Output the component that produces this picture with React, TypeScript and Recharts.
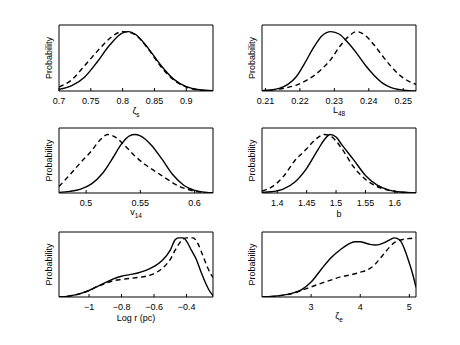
import React from 'react';
import { LineChart, Line, XAxis, YAxis, ReferenceArea } from 'recharts';

const FONT = '"Liberation Sans", Arial, Helvetica, sans-serif';

// Panel 1: zeta_s
const zetaSX = [0.7, 0.72, 0.74, 0.76, 0.78, 0.8, 0.81, 0.82, 0.84, 0.86, 0.88, 0.9, 0.92, 0.942];
const zetaSSolid = [0.024, 0.08, 0.21, 0.44, 0.7, 0.88, 0.9, 0.86, 0.65, 0.39, 0.18, 0.065, 0.018, 0.004];
const zetaSDashed = [0.06, 0.17, 0.38, 0.6, 0.8, 0.9, 0.89, 0.85, 0.64, 0.37, 0.17, 0.06, 0.015, 0.003];
const zetaSTicks = [0.7, 0.75, 0.8, 0.85, 0.9];

// Panel 2: L_48
const l48X = [0.209, 0.2115, 0.214, 0.2165, 0.219, 0.2215, 0.224, 0.2265, 0.229, 0.2315, 0.234, 0.2365, 0.239, 0.2415, 0.244, 0.2465, 0.249, 0.2515, 0.2537];
const l48Solid = [0.005, 0.015, 0.04, 0.1, 0.22, 0.43, 0.66, 0.84, 0.9, 0.86, 0.73, 0.57, 0.39, 0.24, 0.12, 0.05, 0.02, 0.006, 0.002];
const l48Dashed = [0.005, 0.012, 0.03, 0.055, 0.09, 0.15, 0.23, 0.34, 0.48, 0.67, 0.82, 0.9, 0.84, 0.7, 0.53, 0.37, 0.24, 0.15, 0.1];
const l48Ticks = [0.21, 0.22, 0.23, 0.24, 0.25];

// Panel 3: v_14
const v14SolidX = [0.475, 0.485, 0.495, 0.505, 0.515, 0.525, 0.532, 0.54, 0.545, 0.55, 0.56, 0.57, 0.58, 0.59, 0.6, 0.61, 0.617];
const v14Solid = [0.01, 0.025, 0.06, 0.14, 0.3, 0.55, 0.74, 0.88, 0.9, 0.88, 0.74, 0.52, 0.28, 0.12, 0.04, 0.01, 0.004];
const v14DashedX = [0.475, 0.485, 0.495, 0.505, 0.512, 0.52, 0.527, 0.535, 0.545, 0.555, 0.565, 0.575, 0.585, 0.595, 0.605, 0.617];
const v14Dashed = [0.1, 0.28, 0.47, 0.65, 0.8, 0.9, 0.86, 0.74, 0.57, 0.43, 0.32, 0.21, 0.11, 0.05, 0.015, 0.004];
const v14Ticks = [0.5, 0.55, 0.6];

// Panel 4: b
const bSolidX = [1.374, 1.39, 1.41, 1.43, 1.45, 1.47, 1.48, 1.49, 1.5, 1.51, 1.53, 1.55, 1.57, 1.59, 1.61, 1.636];
const bSolid = [0.01, 0.02, 0.06, 0.17, 0.38, 0.68, 0.82, 0.9, 0.86, 0.74, 0.51, 0.27, 0.12, 0.045, 0.015, 0.003];
const bDashedX = [1.374, 1.39, 1.41, 1.43, 1.45, 1.46, 1.47, 1.48, 1.49, 1.5, 1.51, 1.53, 1.55, 1.57, 1.59, 1.61, 1.636];
const bDashed = [0.03, 0.09, 0.25, 0.5, 0.68, 0.78, 0.86, 0.9, 0.88, 0.8, 0.68, 0.4, 0.21, 0.1, 0.04, 0.012, 0.003];
const bTicks = [1.4, 1.45, 1.5, 1.55, 1.6];

// Panel 5: Log r (pc)
const logRSolidX = [-1.185, -1.15, -1.1, -1.05, -1, -0.95, -0.9, -0.85, -0.8, -0.75, -0.7, -0.65, -0.6, -0.55, -0.5, -0.47, -0.45, -0.42, -0.4, -0.37, -0.34, -0.31, -0.28, -0.26, -0.237];
const logRSolid = [0, 0.005, 0.025, 0.055, 0.1, 0.16, 0.22, 0.28, 0.32, 0.345, 0.37, 0.41, 0.47, 0.56, 0.72, 0.88, 0.91, 0.91, 0.86, 0.72, 0.58, 0.38, 0.2, 0.1, 0.02];
const logRDashedX = [-1.185, -1.15, -1.1, -1.05, -1, -0.95, -0.9, -0.85, -0.8, -0.75, -0.7, -0.65, -0.6, -0.55, -0.5, -0.47, -0.44, -0.42, -0.4, -0.36, -0.33, -0.3, -0.27, -0.25, -0.237];
const logRDashed = [0, 0.005, 0.025, 0.055, 0.1, 0.16, 0.21, 0.25, 0.27, 0.285, 0.3, 0.32, 0.36, 0.44, 0.58, 0.72, 0.84, 0.89, 0.91, 0.91, 0.82, 0.64, 0.45, 0.35, 0.3];
const logRTicks = [-1, -0.8, -0.6, -0.4];

// Panel 6: zeta_e
const zetaEX = [2.0, 2.2, 2.4, 2.6, 2.8, 3.0, 3.2, 3.4, 3.6, 3.8, 3.9, 4.0, 4.1, 4.2, 4.3, 4.4, 4.5, 4.6, 4.7, 4.8, 4.9, 5.0, 5.05, 5.135];
const zetaESolid = [0, 0.008, 0.025, 0.055, 0.11, 0.23, 0.42, 0.6, 0.73, 0.83, 0.85, 0.85, 0.83, 0.81, 0.8, 0.81, 0.84, 0.88, 0.91, 0.88, 0.74, 0.52, 0.4, 0.15];
const zetaEDashedX = [2.0, 2.2, 2.4, 2.6, 2.8, 3.0, 3.2, 3.4, 3.6, 3.8, 4.0, 4.2, 4.3, 4.4, 4.5, 4.6, 4.7, 4.8, 4.9, 5.0, 5.135];
const zetaEDashed = [0, 0.008, 0.025, 0.05, 0.1, 0.155, 0.21, 0.26, 0.31, 0.34, 0.38, 0.44, 0.5, 0.59, 0.68, 0.77, 0.84, 0.87, 0.89, 0.9, 0.91];
const zetaETicks = [3, 4, 5];

type Pt = { x: number; y: number };
const pts = (xs: number[], ys: number[]): Pt[] => xs.map((x, i) => ({ x, y: ys[i] }));

const fmtTick = (v: number) => (v < 0 ? '\u2212' + String(-v) : String(v));

interface PanelCfg {
  left: number;
  top: number;
  width: number;
  height: number;
  domain: [number, number];
  ticks: number[];
  solid: Pt[];
  dashed: Pt[];
  label: string;
  sub?: string;
  labelDy: number;
}

const ML = 45;
const MT = 6;
const MR = 8;
const MB = 40;

function Panel({ cfg }: { cfg: PanelCfg }) {
  const { left, top, width, height, domain, ticks, solid, dashed, label, sub, labelDy } = cfg;
  return (
    <div style={{ position: 'absolute', left: left - ML, top: top - MT }}>
      <LineChart
        width={width + ML + MR}
        height={height + MT + MB}
        margin={{ top: MT, right: MR, bottom: 0, left: 0 }}
      >
        <XAxis
          xAxisId="b"
          dataKey="x"
          type="number"
          domain={domain}
          ticks={ticks}
          interval={0}
          allowDataOverflow
          height={MB}
          axisLine={false}
          tickLine={false}
          tickSize={0}
          tickMargin={0}
          tick={(p: any) => (
            <g>
              <line x1={p.x} x2={p.x} y1={p.y} y2={p.y - 3} stroke="#000" strokeWidth={1} />
              <text x={p.x} y={p.y + 12.5} textAnchor="middle" fontSize={9} fontFamily={FONT} fill="#000">
                {fmtTick(p.payload.value)}
              </text>
            </g>
          )}
          label={{
            content: (p: any) => {
              const vb = p.viewBox || {};
              return (
                <text
                  x={vb.x + vb.width / 2}
                  y={vb.y + labelDy}
                  textAnchor="middle"
                  fontSize={9}
                  fontFamily={FONT}
                  fill="#000"
                >
                  {label}
                  {sub ? (
                    <tspan fontSize={6.5} dy={3}>
                      {sub}
                    </tspan>
                  ) : null}
                </text>
              );
            },
          }}
        />
        <XAxis
          xAxisId="t"
          dataKey="x"
          orientation="top"
          type="number"
          domain={domain}
          ticks={ticks}
          interval={0}
          allowDataOverflow
          height={0}
          axisLine={false}
          tickLine={false}
          tickSize={0}
          tickMargin={0}
          tick={(p: any) => (
            <line x1={p.x} x2={p.x} y1={p.y} y2={p.y + 3} stroke="#000" strokeWidth={1} />
          )}
        />
        <YAxis
          yAxisId="l"
          type="number"
          domain={[0, 1]}
          allowDataOverflow
          width={ML}
          tick={false}
          axisLine={false}
          tickLine={false}
          label={{
            content: (p: any) => {
              const vb = p.viewBox || {};
              const cx = vb.x + vb.width - 10;
              const cy = vb.y + vb.height / 2;
              return (
                <text
                  x={cx}
                  y={cy}
                  transform={`rotate(-90 ${cx} ${cy})`}
                  textAnchor="middle"
                  dominantBaseline="central"
                  fontSize={9}
                  fontFamily={FONT}
                  fill="#000"
                >
                  Probability
                </text>
              );
            },
          }}
        />
        <ReferenceArea
          xAxisId="b"
          yAxisId="l"
          x1={domain[0]}
          x2={domain[1]}
          y1={0}
          y2={1}
          stroke="#000"
          strokeWidth={1}
          fill="none"
          fillOpacity={0}
          ifOverflow="visible"
        />
        <Line
          xAxisId="b"
          yAxisId="l"
          data={dashed}
          dataKey="y"
          type="monotone"
          stroke="#000"
          strokeWidth={1.4}
          strokeDasharray="5 3.5"
          dot={false}
          activeDot={false}
          isAnimationActive={false}
        />
        <Line
          xAxisId="b"
          yAxisId="l"
          data={solid}
          dataKey="y"
          type="monotone"
          stroke="#000"
          strokeWidth={1.4}
          dot={false}
          activeDot={false}
          isAnimationActive={false}
        />
      </LineChart>
    </div>
  );
}

const LEFT_X = 59;
const RIGHT_X = 262;
const PW = 154;

const panels: PanelCfg[] = [
  {
    left: LEFT_X, top: 25, width: PW, height: 66, domain: [0.7, 0.942], ticks: zetaSTicks,
    solid: pts(zetaSX, zetaSSolid), dashed: pts(zetaSX, zetaSDashed), label: '\u03B6', sub: 's', labelDy: 22.5,
  },
  {
    left: RIGHT_X, top: 25, width: PW, height: 66, domain: [0.209, 0.2537], ticks: l48Ticks,
    solid: pts(l48X, l48Solid), dashed: pts(l48X, l48Dashed), label: 'L', sub: '48', labelDy: 21.5,
  },
  {
    left: LEFT_X, top: 128, width: PW, height: 65, domain: [0.475, 0.617], ticks: v14Ticks,
    solid: pts(v14SolidX, v14Solid), dashed: pts(v14DashedX, v14Dashed), label: 'v', sub: '14', labelDy: 22,
  },
  {
    left: RIGHT_X, top: 128, width: PW, height: 65, domain: [1.374, 1.636], ticks: bTicks,
    solid: pts(bSolidX, bSolid), dashed: pts(bDashedX, bDashed), label: 'b', labelDy: 23.5,
  },
  {
    left: LEFT_X, top: 232, width: PW, height: 65, domain: [-1.185, -0.237], ticks: logRTicks,
    solid: pts(logRSolidX, logRSolid), dashed: pts(logRDashedX, logRDashed), label: 'Log r (pc)', labelDy: 23.5,
  },
  {
    left: RIGHT_X, top: 232, width: PW, height: 65, domain: [2.0, 5.135], ticks: zetaETicks,
    solid: pts(zetaEX, zetaESolid), dashed: pts(zetaEDashedX, zetaEDashed), label: '\u03B6', sub: 'e', labelDy: 22,
  },
];

export default function App() {
  return (
    <div
      style={{
        position: 'absolute',
        left: 0,
        top: 0,
        width: 460,
        height: 345,
        background: '#fff',
        overflow: 'hidden',
      }}
    >
      {panels.map((cfg, i) => (
        <Panel key={i} cfg={cfg} />
      ))}
    </div>
  );
}
